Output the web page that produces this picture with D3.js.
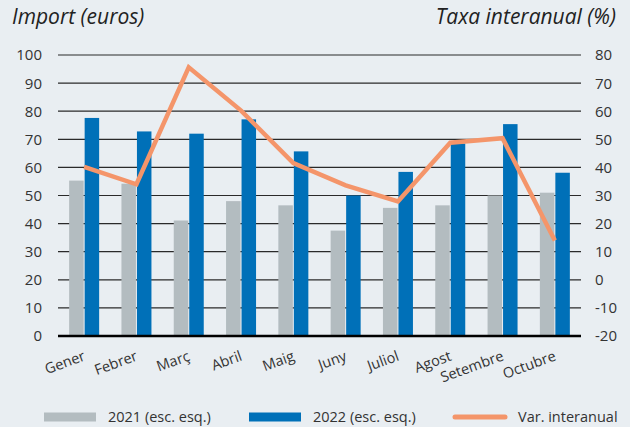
<!DOCTYPE html>
<html>
<head>
<meta charset="utf-8">
<script src="https://cdn.jsdelivr.net/npm/d3@7"></script>
<style>
  body { margin: 0; background: #e9eef2; }
  text { font-family: "Open Sans", "Noto Sans", sans-serif; fill: #333; }
</style>
</head>
<body>
<div id="chart"></div>
<script>
// monthly data
var months = ["Gener", "Febrer", "Març", "Abril", "Maig", "Juny", "Juliol", "Agost", "Setembre", "Octubre"]
var values2021 = [55.3, 54.2, 41.1, 48, 46.5, 37.5, 45.6, 46.5, 50, 51]
var values2022 = [77.6, 72.8, 72, 77.1, 65.7, 50, 58.4, 68.5, 75.4, 58.1]
var varInter = [40.2, 34, 75.6, 60.2, 41.5, 33.6, 27.9, 48.8, 50.4, 14]
var leftTicks = [0, 10, 20, 30, 40, 50, 60, 70, 80, 90, 100]
var rightTicks = [-20, -10, 0, 10, 20, 30, 40, 50, 60, 70, 80]

var W = 630, H = 427
var margin = {top: 55, right: 49, bottom: 91, left: 58},
    width = W - margin.left - margin.right,
    height = H - margin.top - margin.bottom;

var svg = d3.select("#chart")
  .append("svg")
    .attr("width", W)
    .attr("height", H)

svg.append("rect").attr("width", W).attr("height", H).attr("fill", "#e9eef2")

var g = svg.append("g")
    .attr("transform", "translate(" + margin.left + "," + margin.top + ")");

var x = d3.scaleBand().domain(months).range([0, width])
var yL = d3.scaleLinear().domain([0, 100]).range([height, 0])
var yR = d3.scaleLinear().domain([-20, 80]).range([height, 0])

// grid lines
g.selectAll(".grid")
  .data(leftTicks.slice(1))
  .enter()
  .append("line")
    .attr("x1", 0)
    .attr("x2", width)
    .attr("y1", function(d) { return yL(d); })
    .attr("y2", function(d) { return yL(d); })
    .attr("stroke", "#2a2a2a")
    .attr("stroke-width", 1.2)

// bars
var bw = 15
g.selectAll(".b21")
  .data(values2021)
  .enter()
  .append("rect")
    .attr("x", function(d, i) { return x(months[i]) + x.bandwidth() / 2 - bw; })
    .attr("y", function(d) { return yL(d); })
    .attr("width", bw - 0.5)
    .attr("height", function(d) { return height - yL(d); })
    .attr("fill", "#b3bcc0")

g.selectAll(".b22")
  .data(values2022)
  .enter()
  .append("rect")
    .attr("x", function(d, i) { return x(months[i]) + x.bandwidth() / 2 + 0.5; })
    .attr("y", function(d) { return yL(d); })
    .attr("width", bw - 0.5)
    .attr("height", function(d) { return height - yL(d); })
    .attr("fill", "#0070b8")

// baseline
g.append("line")
  .attr("x1", 0).attr("x2", width)
  .attr("y1", height).attr("y2", height)
  .attr("stroke", "#000")
  .attr("stroke-width", 2.5)

// line series
var line = d3.line()
  .x(function(d, i) { return x(months[i]) + x.bandwidth() / 2; })
  .y(function(d) { return yR(d); })

g.append("path")
  .datum(varInter)
  .attr("d", line)
  .attr("fill", "none")
  .attr("stroke", "#f4956a")
  .attr("stroke-width", 4.5)
  .attr("stroke-linejoin", "miter")

// left axis labels
g.selectAll(".lt")
  .data(leftTicks)
  .enter()
  .append("text")
    .attr("x", -16)
    .attr("y", function(d) { return yL(d); })
    .attr("dy", "0.36em")
    .attr("text-anchor", "end")
    .style("font-size", "15px")
    .text(function(d) { return d; })

// right axis labels
g.selectAll(".rt")
  .data(rightTicks)
  .enter()
  .append("text")
    .attr("x", width + 14)
    .attr("y", function(d) { return yR(d); })
    .attr("dy", "0.36em")
    .attr("text-anchor", "start")
    .style("font-size", "15px")
    .text(function(d) { return d; })

// month labels
g.selectAll(".mt")
  .data(months)
  .enter()
  .append("text")
    .attr("transform", function(d) {
      return "translate(" + (x(d) + x.bandwidth() / 2 + 2) + "," + (height + 24) + ")rotate(-20)";
    })
    .attr("text-anchor", "end")
    .style("font-size", "14.5px")
    .text(function(d) { return d; })

// titles
svg.append("text")
  .attr("x", 12).attr("y", 24)
  .style("font-size", "21px")
  .style("font-style", "italic")
  .style("fill", "#222")
  .text("Import (euros)")

svg.append("text")
  .attr("x", 616).attr("y", 24)
  .attr("text-anchor", "end")
  .style("font-size", "21px")
  .style("font-style", "italic")
  .style("fill", "#222")
  .text("Taxa interanual (%)")

// legend
var legY = 417
svg.append("rect").attr("x", 44).attr("y", legY - 4.5).attr("width", 52).attr("height", 9).attr("fill", "#b3bcc0")
svg.append("text").attr("x", 108).attr("y", legY).attr("dy", "0.35em").style("font-size", "14.5px").text("2021 (esc. esq.)")
svg.append("rect").attr("x", 249).attr("y", legY - 4.5).attr("width", 52).attr("height", 9).attr("fill", "#0070b8")
svg.append("text").attr("x", 313).attr("y", legY).attr("dy", "0.35em").style("font-size", "14.5px").text("2022 (esc. esq.)")
svg.append("line").attr("x1", 455).attr("x2", 505).attr("y1", legY).attr("y2", legY)
  .attr("stroke", "#f4956a").attr("stroke-width", 5).attr("stroke-linecap", "round")
svg.append("text").attr("x", 518).attr("y", legY).attr("dy", "0.35em").style("font-size", "14.5px").text("Var. interanual")
</script>
</body>
</html>
